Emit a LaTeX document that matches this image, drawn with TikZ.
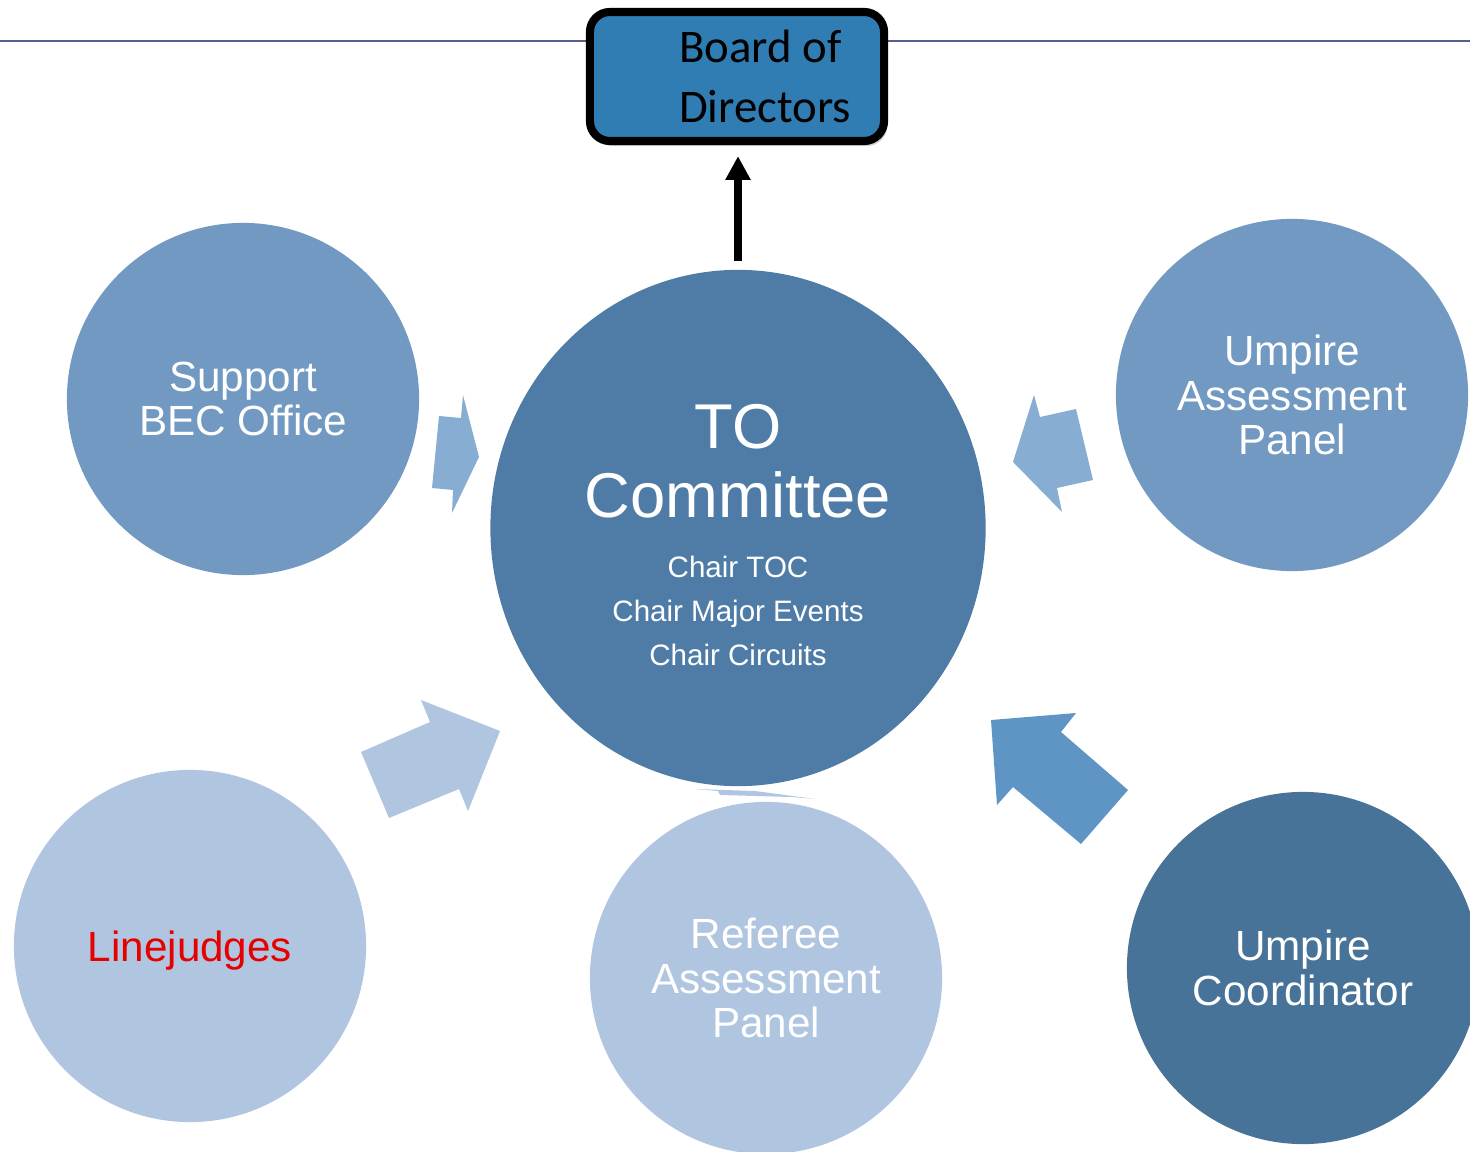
\documentclass[tikz,border=0pt]{standalone}
\usepackage{fontspec}
\setmainfont{Liberation Sans}
\newfontfamily\boardfont{Carlito}
\usetikzlibrary{shapes.geometric,arrows.meta,shadows}

\definecolor{tocblue}{RGB}{79,124,167}
\definecolor{midblue}{RGB}{114,153,194}
\definecolor{paleblue}{RGB}{175,197,224}
\definecolor{deepblue}{RGB}{72,115,152}
\definecolor{arrowmid}{RGB}{136,173,211}
\definecolor{arrowdeep}{RGB}{94,149,197}
\definecolor{boardblue}{RGB}{47,125,178}
\definecolor{rulecol}{RGB}{88,94,142}
\definecolor{judgered}{RGB}{230,0,0}

\begin{document}
\begin{tikzpicture}[
  x = 0.01cm, y = -0.01cm,
  bubble/.style = {
    shape = circle,
    inner sep = 0pt,
    minimum size = 3.52cm,
    text = white,
    align = center,
    font = \fontsize{12}{12.7}\selectfont
  },
  board/.style = {
    rectangle,
    rounded corners = 0.2cm,
    draw = black,
    line width = 2.3pt,
    fill = boardblue,
    minimum width = 2.94cm,
    minimum height = 1.29cm,
    drop shadow = {opacity = 0.35, shadow xshift = 0.03cm, shadow yshift = -0.05cm}
  },
  fat/.style = {
    draw = none
  },
  title/.style = {
    text = white,
    align = center,
    font = \fontsize{18}{19.6}\selectfont
  },
  chairs/.style = {
    text = white,
    align = center,
    font = \fontsize{8.4}{12.5}\selectfont
  }
]
  \useasboundingbox (0, 0) rectangle (1470, 1152);

  % rule line behind the board
  \coordinate (rl) at (0, 41);
  \coordinate (rr) at (1470, 41);
  \draw[rulecol, line width = 0.7pt] (rl) -- (rr);

  \node[board, label = {[xshift = 0.28cm, align = left, font = \boardfont\fontsize{13.3}{17}\selectfont]center:Board of\\Directors}] (board) at (737, 76.5) {};

  % block arrows
  \fill[fat, arrowmid] (439, 416) -- (461, 418) -- (463, 395) -- (479, 457) -- (452, 513) -- (453, 490) -- (432, 488) -- cycle;
  \fill[fat, arrowmid] (1034, 395) -- (1040, 417) -- (1076, 409) -- (1093, 480) -- (1057, 488) -- (1062, 512) -- (1013, 462) -- cycle;
  \fill[fat, arrowdeep] (991, 720) -- (1076, 713) -- (1061, 732) -- (1128, 790) -- (1081, 844) -- (1013, 787) -- (997, 805) -- cycle;
  \fill[fat, paleblue] (361, 752) -- (430, 722) -- (421, 700) -- (500, 731) -- (468, 811) -- (459, 789) -- (389, 818) -- cycle;
  \fill[fat, paleblue] (695, 789) -- (755, 791) -- (815, 799) -- (792, 797) -- (720, 795) -- (718, 791) -- cycle;

  \node[ellipse, fill = tocblue, inner sep = 0pt, minimum width = 4.95cm, minimum height = 5.16cm,
    label = {[title, yshift = 0.665cm]center:TO\\Committee},
    label = {[chairs, yshift = -0.825cm]center:Chair TOC\\Chair Major Events\\Chair Circuits}] (toc) at (738, 528) {};

  \node[bubble, fill = midblue] (support) at (243, 399) {Support\\BEC Office};
  \node[bubble, fill = midblue] (uap) at (1292, 395) {Umpire\\Assessment\\Panel};
  \node[bubble, fill = paleblue, text = judgered, text depth = 0pt] (lj) at (190, 946) {Linejudges};
  \node[bubble, fill = paleblue] (rap) at (766, 978) {Referee\\Assessment\\Panel};
  \node[bubble, fill = deepblue] (uc) at (1303, 968) {Umpire\\Coordinator};

  \draw[line width = 2.2pt, -{Triangle[width = 6.8pt, length = 6.8pt]}, shorten < = 0.08cm, shorten > = 0.11cm]
    (toc.north) -- (toc.north |- board.south);
\end{tikzpicture}
\end{document}
